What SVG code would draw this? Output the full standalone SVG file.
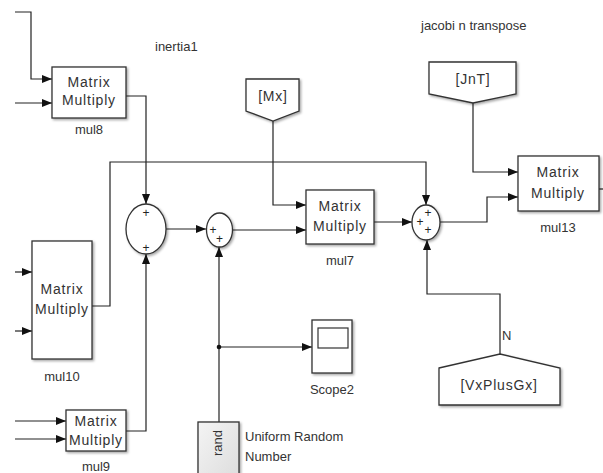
<svg xmlns="http://www.w3.org/2000/svg" width="603" height="473" viewBox="0 0 603 473">
<defs>
<style>
.ln{fill:none;stroke:#222;stroke-width:1.2}
.blk{fill:#fff;stroke:#333;stroke-width:1.3;filter:url(#sh)}
.t{font-family:"Liberation Sans",Arial,sans-serif;font-size:14px;fill:#333;text-anchor:middle;letter-spacing:0.8px}
.lb{font-family:"Liberation Sans",Arial,sans-serif;font-size:13px;fill:#333;text-anchor:middle}
.ll{font-family:"Liberation Sans",Arial,sans-serif;font-size:13px;fill:#333}
.pl{font-family:"Liberation Sans",Arial,sans-serif;font-size:12px;fill:#222;text-anchor:middle}
</style>
<filter id="sh" x="-10%" y="-10%" width="130%" height="130%">
<feDropShadow dx="1.5" dy="1.5" stdDeviation="1" flood-color="#000" flood-opacity="0.35"/>
</filter>
<linearGradient id="gr" x1="0" y1="0" x2="1" y2="1">
<stop offset="0" stop-color="#f4f4f4"/>
<stop offset="1" stop-color="#dcdcdc"/>
</linearGradient>
<marker id="ar" viewBox="0 0 10 8" refX="10" refY="4" markerWidth="10" markerHeight="8" markerUnits="userSpaceOnUse" orient="auto">
<path d="M0,0 L10,4 L0,8 z" fill="#111"/>
</marker>
</defs>
<rect width="603" height="473" fill="#fff"/>

<g id="connectors">
<polyline class="ln" points="15,12 31,12 31,79 52,79" marker-end="url(#ar)"/>
<line class="ln" x1="15" y1="103" x2="52" y2="103" marker-end="url(#ar)"/>
<polyline class="ln" points="126,96 146,96 146,204" marker-end="url(#ar)"/>
<polyline class="ln" points="92,306 110,306 110,162 426,162 426,205" marker-end="url(#ar)"/>
<line class="ln" x1="166" y1="229" x2="206" y2="229" marker-end="url(#ar)"/>
<line class="ln" x1="233" y1="230" x2="306" y2="230" marker-end="url(#ar)"/>
<line class="ln" x1="219" y1="422" x2="219" y2="247" marker-end="url(#ar)"/>
<line class="ln" x1="219" y1="347" x2="312" y2="347" marker-end="url(#ar)"/>
<circle cx="219" cy="347" r="2.3" fill="#111"/>
<polyline class="ln" points="126,431 146,431 146,254" marker-end="url(#ar)"/>
<line class="ln" x1="15" y1="421" x2="66" y2="421" marker-end="url(#ar)"/>
<line class="ln" x1="15" y1="439" x2="66" y2="439" marker-end="url(#ar)"/>
<line class="ln" x1="15" y1="272" x2="32" y2="272" marker-end="url(#ar)"/>
<line class="ln" x1="15" y1="331" x2="32" y2="331" marker-end="url(#ar)"/>
<polyline class="ln" points="273,121 273,205 306,205" marker-end="url(#ar)"/>
<line class="ln" x1="374" y1="222" x2="412" y2="222" marker-end="url(#ar)"/>
<polyline class="ln" points="440,222 487,222 487,197 518,197" marker-end="url(#ar)"/>
<polyline class="ln" points="473,103 473,172 518,172" marker-end="url(#ar)"/>
<line class="ln" x1="599" y1="189" x2="603" y2="189"/>
<polyline class="ln" points="500,354 500,294 427,294 427,240" marker-end="url(#ar)"/>
<text class="ll" x="502" y="340">N</text>
</g>

<text class="ll" x="155" y="51">inertia1</text>
<text class="ll" x="421" y="30">jacobi n transpose</text>

<g id="mul8">
<rect class="blk" x="52" y="67" width="74" height="51"/>
<text class="t" x="89" y="87">Matrix</text>
<text class="t" x="89" y="105">Multiply</text>
<text class="lb" x="89" y="134">mul8</text>
</g>

<g id="mul10">
<rect class="blk" x="32" y="241" width="60" height="118"/>
<text class="t" x="62" y="294">Matrix</text>
<text class="t" x="62" y="314">Multiply</text>
<text class="lb" x="62" y="381">mul10</text>
</g>

<g id="mul9">
<rect class="blk" x="66" y="410" width="60" height="41"/>
<text class="t" x="96" y="426">Matrix</text>
<text class="t" x="96" y="445">Multiply</text>
<text class="lb" x="96" y="471">mul9</text>
</g>

<g id="sum1">
<ellipse class="blk" cx="146" cy="229" rx="20" ry="25"/>
<text class="pl" x="146" y="217">+</text>
<text class="pl" x="146" y="252">+</text>
</g>

<g id="sum2">
<ellipse class="blk" cx="219.5" cy="230" rx="13" ry="17"/>
<text class="pl" x="213" y="234">+</text>
<text class="pl" x="219.5" y="243">+</text>
</g>

<g id="Mx">
<polygon class="blk" points="246,79 299,79 299,111 273,121 246,111"/>
<text class="t" x="273" y="101">[Mx]</text>
</g>

<g id="mul7">
<rect class="blk" x="306" y="190" width="68" height="54"/>
<text class="t" x="340" y="211">Matrix</text>
<text class="t" x="340" y="231">Multiply</text>
<text class="lb" x="340" y="265">mul7</text>
</g>

<g id="sum3">
<ellipse class="blk" cx="426" cy="222.5" rx="14" ry="17.5"/>
<text class="pl" x="428" y="217">+</text>
<text class="pl" x="420" y="226">+</text>
<text class="pl" x="428" y="234">+</text>
</g>

<g id="JnT">
<polygon class="blk" points="429,62 516,62 516,94 473,103 429,94"/>
<text class="t" x="473" y="84">[JnT]</text>
</g>

<g id="mul13">
<rect class="blk" x="518" y="156" width="81" height="55"/>
<text class="t" x="558" y="177">Matrix</text>
<text class="t" x="558" y="198">Multiply</text>
<text class="lb" x="558" y="232">mul13</text>
</g>

<g id="Scope2">
<rect class="blk" x="312" y="320" width="40" height="53"/>
<rect x="318" y="328" width="30" height="20" fill="#fff" stroke="#333" stroke-width="1.2"/>
<text class="lb" x="332" y="394">Scope2</text>
</g>

<g id="VxPlusGx">
<polygon class="blk" points="439,368 500,354 560,368 560,405 439,405"/>
<text class="t" x="499" y="390">[VxPlusGx]</text>
</g>

<g id="rand">
<rect x="198" y="422" width="41" height="60" fill="url(#gr)" stroke="#333" stroke-width="1.3" filter="url(#sh)"/>
<text class="lb" transform="translate(222,443) rotate(-90)">rand</text>
<text class="ll" x="245" y="441">Uniform Random</text>
<text class="ll" x="245" y="461">Number</text>
</g>
</svg>
